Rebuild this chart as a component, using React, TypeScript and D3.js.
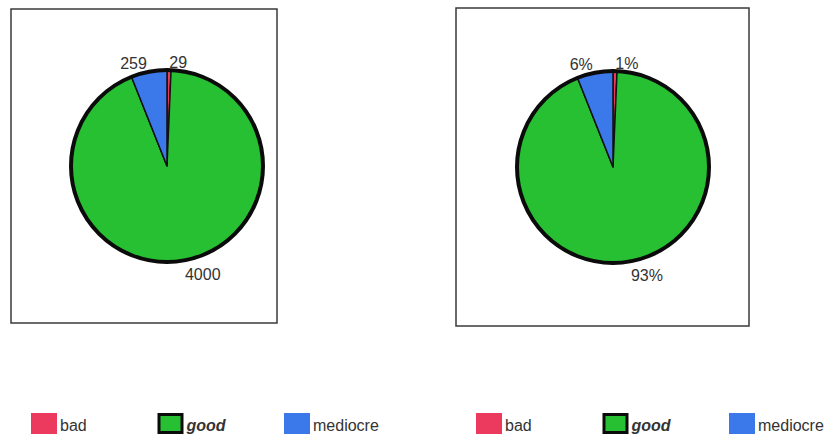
import React from "react";
import * as d3 from "d3";

// Rating counts shown in both panels
const categories = ["bad", "good", "mediocre"];
const counts = [29, 4000, 259];
const colors = ["#ec3a5e", "#27c033", "#3b78ea"];

type Panel = {
  box: [number, number, number, number];
  cx: number;
  cy: number;
  legendX: number;
  mode: "value" | "percent";
};

const panels: Panel[] = [
  { box: [11, 9, 266, 314], cx: 167, cy: 166, legendX: 31, mode: "value" },
  { box: [456, 8, 293, 318], cx: 613, cy: 167, legendX: 476, mode: "percent" },
];

const R = 96;
const LABEL_R = 107;
const FONT = "Arial, 'Liberation Sans', sans-serif";

export default function App() {
  const slices = d3
    .pie<number>()
    .sort(null)
    .value((d) => d)(counts);
  const arc = d3.arc<d3.PieArcDatum<number>>().innerRadius(0).outerRadius(R);
  const total = d3.sum(counts);
  const pct = d3.format(".0%");
  const legendStep = 126.5;

  return (
    <svg
      width={824}
      height={441}
      style={{ position: "absolute", left: 0, top: 0, background: "#fff" }}
      fontFamily={FONT}
    >
      {panels.map((p, pi) => (
        <g key={pi}>
          <rect
            x={p.box[0]}
            y={p.box[1]}
            width={p.box[2]}
            height={p.box[3]}
            fill="#fff"
            stroke="#3a3a3a"
            strokeWidth={1.5}
          />
          <g transform={`translate(${p.cx},${p.cy})`}>
            {slices.map((s, i) => (
              <path
                key={i}
                d={arc(s) || ""}
                fill={colors[i]}
                stroke="#111"
                strokeWidth={1.5}
                strokeLinejoin="round"
              />
            ))}
            <circle r={R} fill="none" stroke="#0b0b0b" strokeWidth={4} />
            {slices.map((s, i) => {
              const a = (s.startAngle + s.endAngle) / 2;
              const x = Math.sin(a) * LABEL_R;
              const y = -Math.cos(a) * LABEL_R + 3;
              const text =
                p.mode === "value" ? String(counts[i]) : pct(counts[i] / total);
              return (
                <text
                  key={i}
                  x={x}
                  y={y}
                  textAnchor={Math.sin(a) >= 0 ? "start" : "end"}
                  dominantBaseline="central"
                  fontSize={16}
                  fill="#333"
                >
                  {text}
                </text>
              );
            })}
          </g>
          <g>
            {categories.map((c, i) => {
              const x = p.legendX + i * legendStep;
              const isGood = c === "good";
              return (
                <g key={c}>
                  <rect
                    x={x + (isGood ? 1.5 : 0)}
                    y={413 + (isGood ? 1.5 : 0)}
                    width={isGood ? 23 : 26}
                    height={isGood ? 18 : 21}
                    fill={colors[i]}
                    stroke={isGood ? "#0b0b0b" : "none"}
                    strokeWidth={isGood ? 3 : 0}
                  />
                  <text
                    x={x + 29}
                    y={425}
                    dominantBaseline="central"
                    fontSize={16}
                    fill="#333"
                    fontWeight={isGood ? "bold" : "normal"}
                    fontStyle={isGood ? "italic" : "normal"}
                  >
                    {c}
                  </text>
                </g>
              );
            })}
          </g>
        </g>
      ))}
    </svg>
  );
}
